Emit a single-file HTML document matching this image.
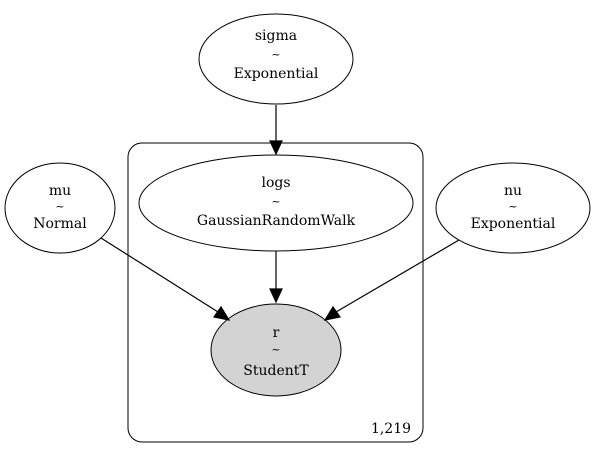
<!DOCTYPE html>
<html><head><style>body{margin:0;background:#fff}svg{display:block}</style></head>
<body>
<svg width="597" height="458" viewBox="0 0 597 458" xmlns="http://www.w3.org/2000/svg" font-family="'DejaVu Serif', 'Liberation Serif', serif" font-size="14" text-anchor="middle">
<rect x="128" y="143" width="295" height="299" rx="14" fill="none" stroke="#000" stroke-width="1"/>
<text x="391" y="433">1,219</text>
<ellipse cx="276" cy="59" rx="77" ry="45" fill="none" stroke="#000"/>
<text x="276" y="40">sigma</text><text x="276" y="58" font-size="11">~</text><text x="276" y="78">Exponential</text>
<ellipse cx="276" cy="203" rx="137" ry="48" fill="none" stroke="#000"/>
<text x="276" y="187">logs</text><text x="276" y="205" font-size="11">~</text><text x="276" y="225">GaussianRandomWalk</text>
<ellipse cx="60" cy="208" rx="55" ry="45" fill="none" stroke="#000"/>
<text x="60" y="195">mu</text><text x="60" y="210" font-size="11">~</text><text x="60" y="228">Normal</text>
<ellipse cx="513" cy="208" rx="77" ry="45" fill="none" stroke="#000"/>
<text x="513" y="195">nu</text><text x="513" y="210" font-size="11">~</text><text x="513" y="228">Exponential</text>
<ellipse cx="276" cy="350" rx="65" ry="46" fill="#d3d3d3" stroke="#000"/>
<text x="276" y="337">r</text><text x="276" y="353" font-size="11">~</text><text x="276" y="375">StudentT</text>
<g stroke="#000" stroke-width="1.2" fill="#000">
<line x1="276" y1="105" x2="276" y2="141"/><polygon points="270,141 282,141 276,154"/>
<line x1="276" y1="251" x2="276" y2="289"/><polygon points="270,289 282,289 276,302"/>
<line x1="101" y1="238" x2="218" y2="312"/><polygon points="214,317 221,307 229,320"/>
<line x1="459" y1="240" x2="336" y2="312"/><polygon points="333,307 340,317 325,320"/>
</g>
</svg>
</body></html>
